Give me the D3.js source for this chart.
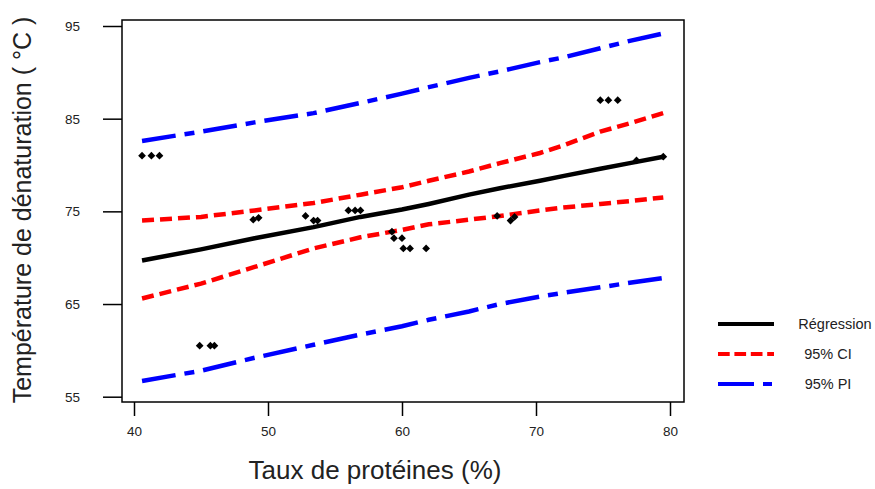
<!DOCTYPE html>
<html>
<head>
<meta charset="utf-8">
<script src="https://cdn.jsdelivr.net/npm/d3@7"></script>
<style>
  body { margin: 0; background: #fff; }
  svg text { font-family: "Liberation Sans", Arial, sans-serif; fill: #222; }
</style>
</head>
<body>
<svg id="chart" width="875" height="489"></svg>
<script>
// observed points
var pointX = [40.6, 41.3, 41.9, 44.9, 45.7, 46.0, 48.9, 49.3, 52.8, 53.4, 53.7,
              56.0, 56.5, 56.9, 59.25, 59.4, 60.0, 60.1, 60.6, 61.8,
              67.1, 68.1, 68.4, 74.8, 75.4, 76.1, 77.5, 79.5];
var pointY = [81, 81, 81, 60.5, 60.5, 60.5, 74.1, 74.3, 74.5, 74.0, 74.0,
              75.1, 75.1, 75.1, 72.8, 72.1, 72.1, 71.0, 71.0, 71.0,
              74.5, 74.0, 74.4, 87, 87, 87, 80.5, 80.9];

// fitted curves
var fitX     = [40.6, 45, 49, 53.4, 56.9, 60, 62, 65, 67.3, 70.3, 72, 74.8, 77, 79.5];
var fitY     = [69.7, 70.9, 72.1, 73.3, 74.4, 75.2, 75.8, 76.8, 77.5, 78.3, 78.8, 79.6, 80.2, 80.9];
var ciUpper  = [74.0, 74.4, 75.1, 75.9, 76.8, 77.6, 78.3, 79.3, 80.2, 81.3, 82.1, 83.6, 84.5, 85.6];
var ciLower  = [65.6, 67.2, 69.0, 71.0, 72.2, 73.0, 73.6, 74.1, 74.5, 75.1, 75.4, 75.8, 76.1, 76.5];
var piUpper  = [82.6, 83.6, 84.6, 85.6, 86.7, 87.7, 88.4, 89.4, 90.1, 91.1, 91.6, 92.6, 93.4, 94.2];
var piLower  = [56.7, 57.8, 59.2, 60.6, 61.7, 62.6, 63.3, 64.2, 65.0, 65.8, 66.2, 66.8, 67.3, 67.8];

var xTicks = [40, 50, 60, 70, 80];
var yTicks = [55, 65, 75, 85, 95];
var legendLabels = ["Régression", "95% CI", "95% PI"];

var svg = d3.select("#chart");

var x = d3.scaleLinear().domain([40, 80]).range([134, 670]);
var y = d3.scaleLinear().domain([55, 95]).range([396.7, 26]);

// plot box
var box = {left: 122, right: 684, top: 20, bottom: 402};
svg.append("rect")
    .attr("x", box.left).attr("y", box.top)
    .attr("width", box.right - box.left).attr("height", box.bottom - box.top)
    .attr("fill", "none").attr("stroke", "#000").attr("stroke-width", 1.5);

// axes
var yAxis = svg.append("g")
    .attr("transform", "translate(" + box.left + ",0)")
    .call(d3.axisLeft(y).tickValues(yTicks).tickSize(19).tickPadding(23));
yAxis.select(".domain").remove();
yAxis.selectAll("line").attr("stroke-width", 1.5);
yAxis.selectAll("text").style("font-size", "13.5px").style("font-family", "Liberation Sans, Arial, sans-serif").attr("fill", "#222");

var xAxis = svg.append("g")
    .attr("transform", "translate(0," + box.bottom + ")")
    .call(d3.axisBottom(x).tickValues(xTicks).tickSize(14).tickPadding(10));
xAxis.select(".domain").remove();
xAxis.selectAll("line").attr("stroke-width", 1.5);
xAxis.selectAll("text").style("font-size", "13.5px").style("font-family", "Liberation Sans, Arial, sans-serif").attr("fill", "#222");

// axis titles
svg.append("text")
    .attr("x", 375).attr("y", 479)
    .attr("text-anchor", "middle")
    .style("font-size", "26px")
    .text("Taux de protéines (%)");

svg.append("text")
    .attr("transform", "translate(31,210) rotate(-90)")
    .attr("text-anchor", "middle")
    .style("font-size", "25px")
    .text("Température de dénaturation ( °C )");

// lines
var series = [
    {vals: piUpper, color: "#0000ff", dash: "34 9 10 9"},
    {vals: piLower, color: "#0000ff", dash: "34 9 10 9"},
    {vals: ciUpper, color: "#ff0000", dash: "12 6"},
    {vals: ciLower, color: "#ff0000", dash: "12 6"},
    {vals: fitY, color: "#000000", dash: null}
];

var line = d3.line()
    .x(function(d) { return x(d[0]); })
    .y(function(d) { return y(d[1]); });

svg.append("g")
    .selectAll("path")
    .data(series)
    .enter()
    .append("path")
    .attr("d", function(s) { return line(fitX.map(function(v, i) { return [v, s.vals[i]]; })); })
    .attr("fill", "none")
    .attr("stroke", function(s) { return s.color; })
    .attr("stroke-width", 4.5)
    .attr("stroke-dasharray", function(s) { return s.dash; });

// points
var diamond = d3.symbol().type(d3.symbolSquare).size(30);
svg.append("g")
    .selectAll("path")
    .data(pointX)
    .enter()
    .append("path")
    .attr("d", diamond)
    .attr("transform", function(d, i) { return "translate(" + x(d) + "," + y(pointY[i]) + ") rotate(45)"; })
    .attr("fill", "#000");

// legend
var legendStyles = [
    {color: "#000000", dash: null, tx: 835},
    {color: "#ff0000", dash: "11.7 4.7", tx: 828},
    {color: "#0000ff", dash: "36 9 9 9", tx: 828}
];
var legend = svg.append("g")
    .selectAll("g")
    .data(legendLabels)
    .enter()
    .append("g")
    .attr("transform", function(d, i) { return "translate(0," + (324 + i * 30) + ")"; });

legend.append("line")
    .attr("x1", 718).attr("x2", 774)
    .attr("stroke", function(d, i) { return legendStyles[i].color; })
    .attr("stroke-width", 4)
    .attr("stroke-dasharray", function(d, i) { return legendStyles[i].dash; });

legend.append("text")
    .attr("x", function(d, i) { return legendStyles[i].tx; })
    .attr("dy", "0.35em")
    .attr("text-anchor", "middle")
    .style("font-size", "14.5px")
    .text(function(d) { return d; });
</script>
</body>
</html>
